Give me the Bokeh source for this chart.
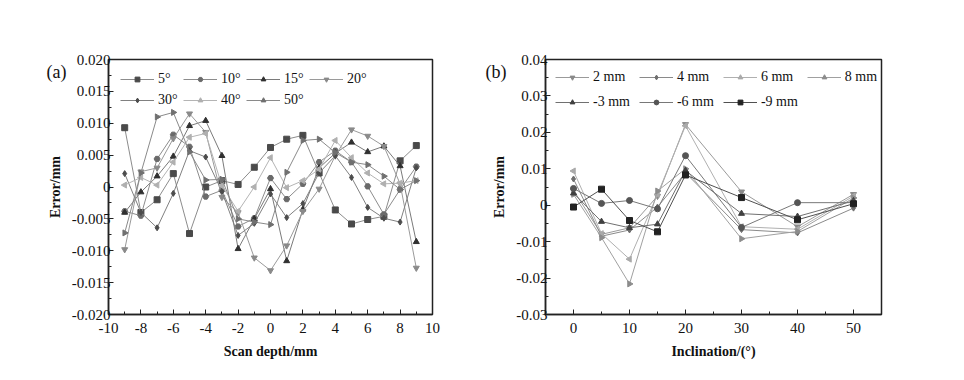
import math
from bokeh.plotting import figure
from bokeh.layouts import row
from bokeh.models import Legend, LegendItem, FixedTicker, Range1d, Title
from bokeh.embed import file_html
from bokeh.resources import INLINE

# ---------------- data: panel (a) ----------------
depth = [-9, -8, -7, -6, -5, -4, -3, -2, -1, 0, 1, 2, 3, 4, 5, 6, 7, 8, 9]
a_labels = ["5°", "10°", "15°", "20°", "30°", "40°", "50°"]
a_5 = [0.0093, -0.0040, -0.0020, 0.0021, -0.0073, 0.0000, 0.0010, 0.0004, 0.0031, 0.0062,
       0.0075, 0.0081, 0.0022, -0.0036, -0.0058, -0.0051, -0.0046, 0.0041, 0.0065]
a_10 = [-0.0038, -0.0045, 0.0044, 0.0082, 0.0063, -0.0015, -0.0005, -0.0062, -0.0049, 0.0014,
        -0.0019, 0.0005, 0.0039, 0.0057, 0.0039, 0.0001, -0.0043, -0.0004, 0.0032]
a_15 = [-0.0040, -0.0008, 0.0017, 0.0048, 0.0096, 0.0104, 0.0049, -0.0097, -0.0050, -0.0003,
        -0.0116, -0.0035, 0.0030, 0.0053, 0.0070, 0.0055, 0.0064, 0.0033, -0.0086]
a_20 = [-0.0098, 0.0024, 0.0030, 0.0076, 0.0115, 0.0086, -0.0016, -0.0040, -0.0111, -0.0131,
        -0.0092, -0.0038, -0.0003, 0.0049, 0.0090, 0.0080, 0.0064, 0.0005, -0.0127]
a_30 = [0.0021, -0.0040, -0.0064, -0.0010, 0.0057, 0.0047, -0.0007, -0.0076, -0.0057, -0.0011,
        -0.0048, -0.0026, 0.0022, 0.0049, 0.0015, -0.0032, -0.0049, -0.0055, 0.0030]
a_40 = [0.0003, 0.0015, 0.0003, 0.0039, 0.0078, 0.0084, 0.0002, -0.0038, 0.0000, 0.0046,
        -0.0001, 0.0010, 0.0028, 0.0073, 0.0046, 0.0022, 0.0005, 0.0006, 0.0010]
a_50 = [-0.0072, 0.0022, 0.0110, 0.0117, 0.0055, 0.0011, 0.0012, -0.0050, -0.0055, -0.0059,
        0.0023, 0.0073, 0.0075, 0.0054, 0.0039, 0.0035, 0.0017, -0.0004, 0.0010]
a_x_ticks = [-10, -8, -6, -4, -2, 0, 2, 4, 6, 8, 10]
a_y_ticks = [-0.020, -0.015, -0.010, -0.005, 0.0, 0.005, 0.010, 0.015, 0.020]
a_y_tick_labels = ["-0.020", "-0.015", "-0.010", "-0.005", "0", "0.005", "0.010", "0.015", "0.020"]

# ---------------- data: panel (b) ----------------
incl = [0, 5, 10, 15, 20, 30, 40, 50]
b_labels = ["2 mm", "4 mm", "6 mm", "8 mm", "-3 mm", "-6 mm", "-9 mm"]
b_2 = [0.0041, -0.0080, -0.0062, 0.0025, 0.0222, 0.0037, -0.0059, 0.0030]
b_4 = [0.0072, -0.0085, -0.0068, -0.0005, 0.0089, -0.0067, -0.0076, -0.0008]
b_6 = [0.0094, -0.0078, -0.0148, 0.0030, 0.0218, -0.0059, -0.0066, 0.0025]
b_8 = [0.0030, -0.0089, -0.0216, 0.0039, 0.0100, -0.0092, -0.0072, 0.0020]
b_m3 = [0.0033, -0.0045, -0.0062, -0.0052, 0.0095, -0.0023, -0.0031, 0.0012]
b_m6 = [0.0046, 0.0005, 0.0013, -0.0010, 0.0136, -0.0061, 0.0007, 0.0007]
b_m9 = [-0.0005, 0.0044, -0.0042, -0.0073, 0.0083, 0.0021, -0.0040, 0.0004]
b_x_ticks = [0, 10, 20, 30, 40, 50]
b_y_ticks = [-0.03, -0.02, -0.01, 0.0, 0.01, 0.02, 0.03, 0.04]
b_y_tick_labels = ["-0.03", "-0.02", "-0.01", "0", "0.01", "0.02", "0.03", "0.04"]

SERIF = "Liberation Serif"

# marker styles: (marker, angle, fill colour, line colour)
a_styles = [
    ("square", 0, "#4a4a4a", "#8c8c8c"),
    ("hex", 0, "#6a6a6a", "#8c8c8c"),
    ("triangle", 0, "#303030", "#7a7a7a"),
    ("inverted_triangle", 0, "#8a8a8a", "#9a9a9a"),
    ("diamond", 0, "#4c4c4c", "#808080"),
    ("triangle", math.pi / 2, "#b0b0b0", "#b4b4b4"),
    ("triangle", -math.pi / 2, "#707070", "#8a8a8a"),
]
b_styles = [
    ("inverted_triangle", 0, "#8a8a8a", "#9a9a9a"),
    ("diamond", 0, "#707070", "#8a8a8a"),
    ("triangle", math.pi / 2, "#aaaaaa", "#b0b0b0"),
    ("triangle", -math.pi / 2, "#8c8c8c", "#a0a0a0"),
    ("triangle", 0, "#404040", "#707070"),
    ("circle", 0, "#555555", "#787878"),
    ("square", 0, "#222222", "#505050"),
]


def style_fig(p, xticks, yticks, ylabels, xminor, yminor, xlabel):
    p.xaxis.ticker = FixedTicker(ticks=xticks, minor_ticks=xminor)
    p.yaxis.ticker = FixedTicker(ticks=yticks, minor_ticks=yminor)
    p.yaxis.major_label_overrides = {t: l for t, l in zip(yticks, ylabels)}
    p.xaxis.major_label_overrides = {t: str(t) for t in xticks}
    for ax in (p.xaxis[0], p.yaxis[0]):
        ax.axis_line_color = "#222222"
        ax.axis_line_width = 1.5
        ax.major_tick_in = 5
        ax.major_tick_out = 0
        ax.minor_tick_in = 3
        ax.minor_tick_out = 0
        ax.major_tick_line_color = "#222222"
        ax.minor_tick_line_color = "#222222"
        ax.major_label_text_font = SERIF
        ax.major_label_text_font_size = "15px"
        ax.major_label_text_color = "#111111"
        ax.axis_label_text_font = SERIF
        ax.axis_label_text_font_size = "14px"
        ax.axis_label_text_font_style = "bold"
        ax.axis_label_text_color = "#111111"
    p.xaxis.axis_label = xlabel
    p.yaxis.axis_label = "Error/mm"
    p.xaxis.major_label_standoff = 8
    p.yaxis.major_label_standoff = -2
    p.xaxis.axis_label_standoff = 8
    p.yaxis.axis_label_standoff = 6
    p.xgrid.visible = False
    p.ygrid.visible = False
    p.outline_line_color = "#222222"
    p.outline_line_width = 1.5
    p.outline_line_alpha = 1.0


def add_series(p, xs, series, labels, styles, size):
    items = []
    for ys, lab, (mk, ang, fc, lc) in zip(series, labels, styles):
        r1 = p.line(xs, ys, line_color=lc, line_width=1)
        r2 = p.scatter(xs, ys, marker=mk, angle=ang, size=size,
                       fill_color=fc, line_color=fc)
        items.append(LegendItem(label=lab, renderers=[r1, r2]))
    return items


def panel_tag(text, offset):
    return Title(text=text, align="left", offset=offset, standoff=-44,
                 text_font=SERIF, text_font_size="18px",
                 text_font_style="normal", text_color="#111111")


H = 364

# ---------------- panel (a) ----------------
pa = figure(width=472, height=H, output_backend="svg", toolbar_location=None,
            x_range=Range1d(-10, 10), y_range=Range1d(-0.020, 0.020),
            min_border_left=108, min_border_right=40, min_border_top=59,
            min_border_bottom=50)
style_fig(pa, a_x_ticks, a_y_ticks, a_y_tick_labels, list(range(-9, 10, 2)),
          [-0.0175, -0.0125, -0.0075, -0.0025, 0.0025, 0.0075, 0.0125, 0.0175],
          "Scan depth/mm")
items_a = add_series(pa, depth, [a_5, a_10, a_15, a_20, a_30, a_40, a_50],
                     a_labels, a_styles, 6)
leg_a = Legend(items=items_a, location="top_left", orientation="horizontal", ncols=4,
               background_fill_alpha=0, border_line_alpha=0,
               label_text_font=SERIF, label_text_font_size="14px",
               label_text_color="#111111", glyph_width=34, glyph_height=12,
               label_standoff=4, spacing=5, padding=4, margin=8,
               label_height=12)
pa.add_layout(leg_a)
pa.add_layout(panel_tag("(a)", -62), "above")

# ---------------- panel (b) ----------------
pb = figure(width=476, height=H, output_backend="svg", toolbar_location=None,
            x_range=Range1d(-5, 55), y_range=Range1d(-0.03, 0.04),
            min_border_left=73, min_border_right=67, min_border_top=59,
            min_border_bottom=50)
style_fig(pb, b_x_ticks, b_y_ticks, b_y_tick_labels, [5, 15, 25, 35, 45],
          [-0.025, -0.015, -0.005, 0.005, 0.015, 0.025, 0.035],
          "Inclination/(°)")
items_b = add_series(pb, incl, [b_2, b_4, b_6, b_8, b_m3, b_m6, b_m9],
                     b_labels, b_styles, 6)
leg_b = Legend(items=items_b, location="top_left", orientation="horizontal", ncols=4,
               background_fill_alpha=0, border_line_alpha=0,
               label_text_font=SERIF, label_text_font_size="14px",
               label_text_color="#111111", glyph_width=34, glyph_height=12,
               label_standoff=4, spacing=9, padding=2, margin=8,
               label_height=12)
pb.add_layout(leg_b)
pb.add_layout(panel_tag("(b)", -60), "above")

layout = row(pa, pb)
open("out.html", "w").write(file_html(layout, INLINE))
